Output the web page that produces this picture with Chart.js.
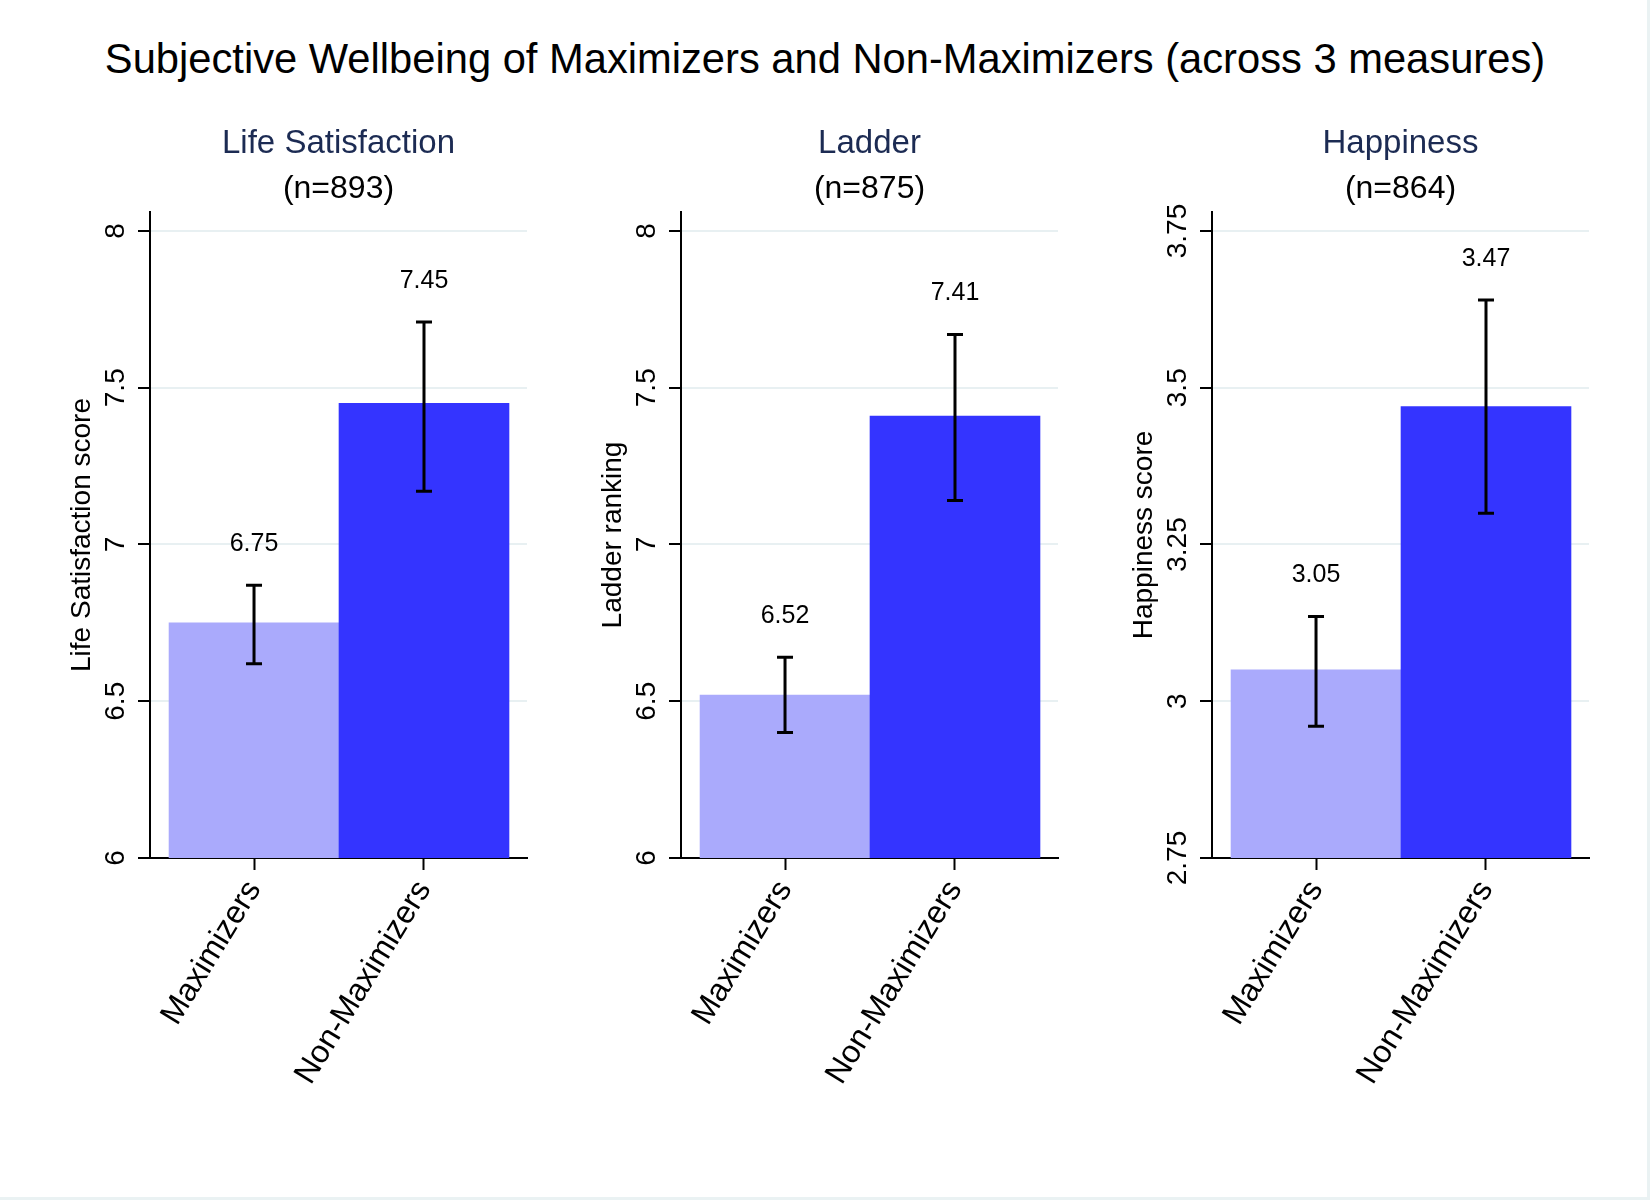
<!DOCTYPE html>
<html>
<head>
<meta charset="utf-8">
<script src="https://cdn.jsdelivr.net/npm/chart.js@4.4.1/dist/chart.umd.min.js"></script>
<style>
  html, body { margin: 0; padding: 0; }
  body { width: 1650px; height: 1200px; background: #eaf2f3; position: relative; overflow: hidden;
         font-family: "Liberation Sans", Arial, Helvetica, sans-serif; }
  #frame { position: absolute; left: 0; top: 0; width: 1647px; height: 1197px; background: #ffffff; }
  #mainTitle { position: absolute; left: 0; top: 34px; width: 1650px; height: 50px; line-height: 50px;
               text-align: center; font-size: 41.7px; color: #000; white-space: nowrap; }
  canvas.panel { position: absolute; top: 100px; }
</style>
</head>
<body>
<div id="frame"></div>
<div id="mainTitle">Subjective Wellbeing of Maximizers and Non-Maximizers (across 3 measures)</div>
<canvas id="c0" class="panel" width="531" height="1050" style="left:0px"></canvas>
<canvas id="c1" class="panel" width="531" height="1050" style="left:531px"></canvas>
<canvas id="c2" class="panel" width="531" height="1050" style="left:1062px"></canvas>
<script>
// ---------------- data ----------------
const groups = ['Maximizers', 'Non-Maximizers'];
const panelTitles = ['Life Satisfaction', 'Ladder', 'Happiness'];
const panelSubtitles = ['(n=893)', '(n=875)', '(n=864)'];
const yAxisTitles = ['Life Satisfaction score', 'Ladder ranking', 'Happiness score'];

const lifeSatMeans = [6.75, 7.45];
const lifeSatLow   = [6.62, 7.17];
const lifeSatHigh  = [6.87, 7.71];

const ladderMeans = [6.52, 7.41];
const ladderLow   = [6.40, 7.14];
const ladderHigh  = [6.64, 7.67];

const happyMeans = [3.05, 3.47];
const happyLow   = [2.96, 3.30];
const happyHigh  = [3.135, 3.64];

const lifeSatTicks = [6, 6.5, 7, 7.5, 8];
const ladderTicks  = [6, 6.5, 7, 7.5, 8];
const happyTicks   = [2.75, 3, 3.25, 3.5, 3.75];

const barColors = ['#aaaafc', '#3434ff'];

// --------------------------------------
const FONT = '"Liberation Sans", Arial, Helvetica, sans-serif';
Chart.defaults.font.family = FONT;
Chart.defaults.color = '#000';

const panels = [
  { means: lifeSatMeans, low: lifeSatLow, high: lifeSatHigh, ticks: lifeSatTicks },
  { means: ladderMeans,  low: ladderLow,  high: ladderHigh,  ticks: ladderTicks },
  { means: happyMeans,   low: happyLow,   high: happyHigh,   ticks: happyTicks }
];

const overlay = {
  id: 'overlay',
  afterDatasetsDraw(chart) {
    const p = chart.options.plugins.overlay;
    const { ctx, chartArea } = chart;
    const x = chart.scales.x, y = chart.scales.y;
    ctx.save();
    ctx.fillStyle = '#000';
    ctx.textAlign = 'center';
    ctx.textBaseline = 'middle';
    // rotated y tick labels
    ctx.font = '28px ' + FONT;
    p.ticks.forEach(v => {
      const py = y.getPixelForValue(v);
      ctx.save();
      ctx.translate(chartArea.left - 34, py);
      ctx.rotate(-Math.PI / 2);
      ctx.fillText(String(v), 0, 0);
      ctx.restore();
    });
    // error bars + value labels
    ctx.strokeStyle = '#000';
    ctx.lineWidth = 3;
    p.means.forEach((m, i) => {
      const px = x.getPixelForValue(i);
      const yl = y.getPixelForValue(p.low[i]);
      const yh = y.getPixelForValue(p.high[i]);
      ctx.beginPath();
      ctx.moveTo(px, yl); ctx.lineTo(px, yh);
      ctx.moveTo(px - 8, yl); ctx.lineTo(px + 8, yl);
      ctx.moveTo(px - 8, yh); ctx.lineTo(px + 8, yh);
      ctx.stroke();
      ctx.font = '25px ' + FONT;
      ctx.fillText(m.toFixed(2), px, yh - 41);
    });
    ctx.restore();
  }
};

panels.forEach((p, k) => {
  const ticks = p.ticks;
  const span = ticks[ticks.length - 1] - ticks[0];
  new Chart(document.getElementById('c' + k), {
    type: 'bar',
    data: {
      datasets: [{
        data: p.means.map((m, i) => ({ x: i, y: m })),
        backgroundColor: barColors,
        borderWidth: 0,
        barPercentage: 1,
        categoryPercentage: 1
      }]
    },
    options: {
      responsive: false,
      animation: false,
      devicePixelRatio: 1,
      layout: { padding: { left: 0, right: 4, top: 0, bottom: 0 } },
      plugins: {
        legend: { display: false },
        tooltip: { enabled: false },
        title: {
          display: true, text: panelTitles[k], color: '#1c2b53', fullSize: false,
          font: { size: 33, weight: 'normal', lineHeight: 1.2 },
          padding: { top: 24, bottom: 6 }
        },
        subtitle: {
          display: true, text: panelSubtitles[k], color: '#000', fullSize: false,
          font: { size: 32, weight: 'normal', lineHeight: 1.2 },
          padding: { top: 0, bottom: 4 }
        },
        overlay: p
      },
      scales: {
        x: {
          type: 'linear',
          min: -0.612, max: 1.606,
          offset: false,
          afterBuildTicks: s => { s.ticks = groups.map((g, i) => ({ value: i })); },
          afterFit: s => { s.height = 292; },
          ticks: {
            autoSkip: false,
            minRotation: 58.5, maxRotation: 58.5,
            padding: 4,
            font: { size: 32 },
            color: '#000',
            callback: v => groups[v]
          },
          grid: { display: true, offset: false, drawOnChartArea: false, drawTicks: true,
                  tickLength: 12, tickColor: '#000', tickWidth: 2, color: '#000' },
          border: { display: true, color: '#000', width: 2 }
        },
        y: {
          type: 'linear',
          min: ticks[0],
          max: ticks[ticks.length - 1] + span * 0.0303,
          beginAtZero: false,
          afterBuildTicks: s => { s.ticks = ticks.map(v => ({ value: v })); },
          afterFit: s => { s.width = 150; },
          ticks: { display: false },
          grid: { display: true, color: '#e8f0f2', lineWidth: 2, drawTicks: true,
                  tickLength: 12, tickColor: '#000', tickWidth: 2 },
          border: { display: true, color: '#000', width: 2 },
          title: {
            display: true, text: yAxisTitles[k], color: '#000',
            font: { size: 28, lineHeight: 1.2 },
            padding: { top: 65, bottom: 0 }
          }
        }
      }
    },
    plugins: [overlay]
  });
});
</script>
</body>
</html>
